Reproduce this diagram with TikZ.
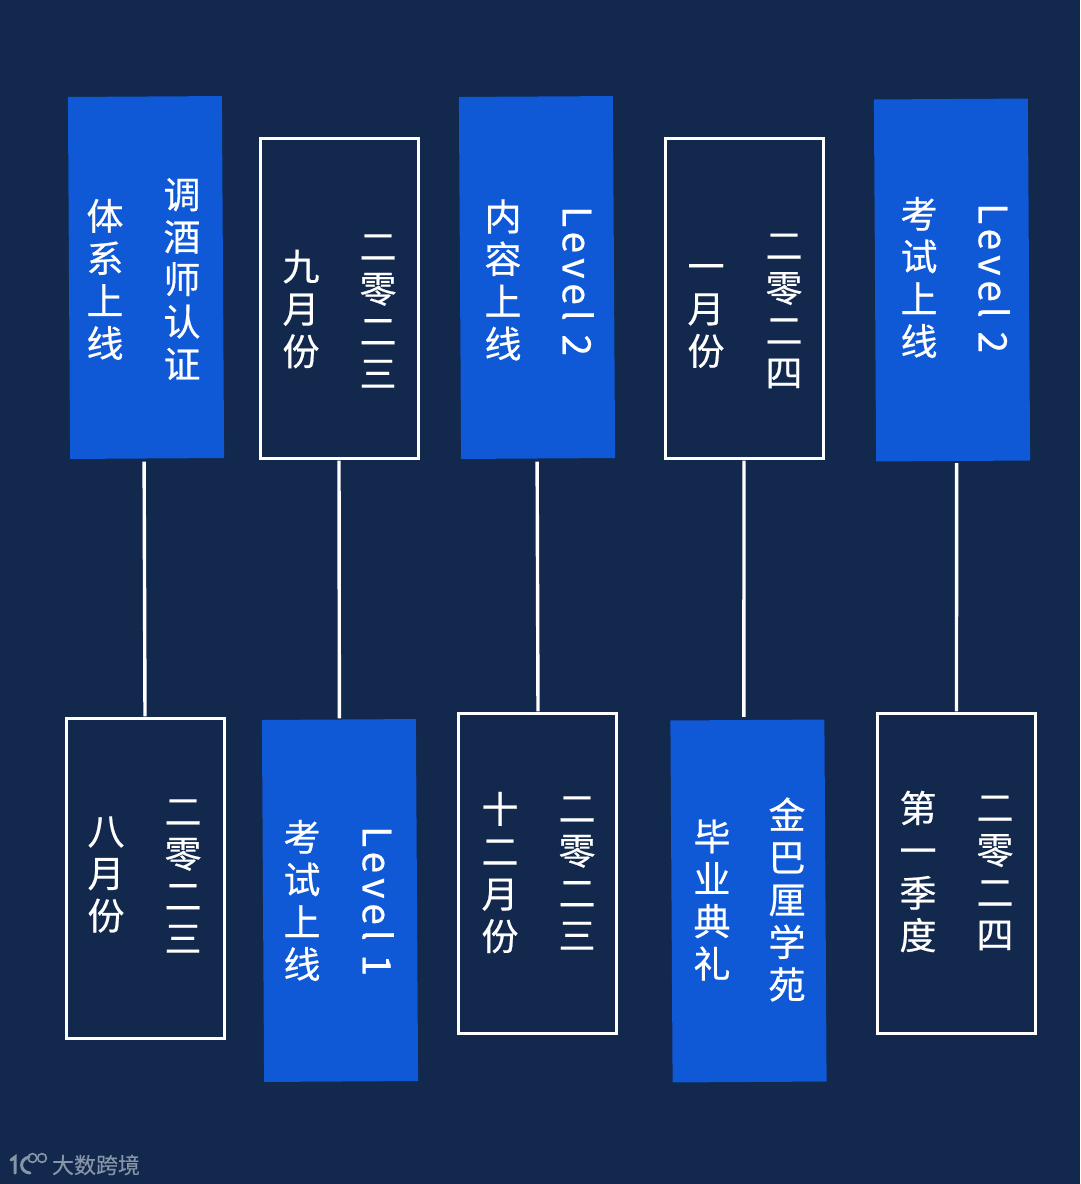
\documentclass[tikz,border=0pt]{standalone}
\usepackage{fontspec}
\newfontfamily\cjkfont[FakeBold=0.5]{Noto Sans CJK SC}
\newfontfamily\markfont[FakeBold=0.3]{Noto Sans CJK SC}
\newfontfamily\latinfont[LetterSpace=12.5,FakeBold=0.5]{Noto Sans CJK SC}
\definecolor{bgnavy}{HTML}{12284C}
\definecolor{boxblue}{HTML}{0F58D6}
\definecolor{markgrey}{HTML}{8795A8}
\tikzset{
  x=1pt,y=-1pt,
  bluebox/.style={draw=none,fill=boxblue,minimum width=154pt,minimum height=362pt,inner sep=0pt,rotate=0.35},
  linebox/.style={draw=white,line width=2.8pt,fill=none,minimum width=157.5pt,minimum height=319.5pt,inner sep=0pt},
  stacktext/.style={text=white,inner sep=0pt,align=center,font=\cjkfont\fontsize{37}{42.4}\selectfont},
  leveltext/.style={text=white,inner sep=0pt,rotate=-90,font=\latinfont\fontsize{39}{42}\selectfont},
  linkline/.style={draw=white,line width=3.4pt},
  logoline/.style={draw=markgrey,line width=3pt}
}
\begin{document}
\begin{tikzpicture}
\useasboundingbox (0,0) rectangle (1080,1184);
\fill[bgnavy] (0,0) rectangle (1080,1184);
% top row
\node[bluebox] (a) at (146,277.5) {};
\node[linebox] (b) at (339.5,298.5) {};
\node[bluebox] (c) at (537,277.5) {};
\node[linebox] (d) at (744.5,298.5) {};
\node[bluebox] (e) at (952,280) {};
% bottom row
\node[linebox] (f) at (145.5,878.5) {};
\node[bluebox] (g) at (340,900.5) {};
\node[linebox] (h) at (537.5,873.5) {};
\node[bluebox] (i) at (748.5,901) {};
\node[linebox] (j) at (956.5,873.5) {};
% connectors
\draw[linkline] ([xshift=-3pt,yshift=-3pt]a.south) -- ([xshift=-0.5pt,yshift=1pt]f.north);
\draw[linkline] ([xshift=-0.5pt,yshift=-1pt]b.south) -- ([xshift=0.5pt,yshift=1pt]g.north);
\draw[linkline] ([xshift=-1pt,yshift=-3pt]c.south) -- ([xshift=0.5pt,yshift=1pt]h.north);
\draw[linkline] ([xshift=-0.5pt,yshift=-1pt]d.south) -- ([xshift=-3.5pt,yshift=3pt]i.north);
\draw[linkline] ([xshift=3.5pt,yshift=-2pt]e.south) -- ([yshift=1pt]j.north);
% texts
\node[stacktext] (a1) at (182,279) {调\\酒\\师\\认\\证};
\node[stacktext] (a2) at (105,279.5) {体\\系\\上\\线};
\node[stacktext] (b1) at (378,311) {二\\零\\二\\三};
\node[stacktext] (b2) at (301,309) {九\\月\\份};
\node[leveltext] (c1) at (578,281) {Level 2};
\node[stacktext] (c2) at (503,280) {内\\容\\上\\线};
\node[stacktext] (d1) at (784,311) {二\\零\\二\\四};
\node[stacktext] (d2) at (706,316) {一\\月\\份};
\node[leveltext] (e1) at (994,278) {Level 2};
\node[stacktext] (e2) at (919,277.5) {考\\试\\上\\线};
\node[stacktext] (f1) at (183,876) {二\\零\\二\\三};
\node[stacktext] (f2) at (106,874.5) {八\\月\\份};
\node[leveltext] (g1) at (378,901) {Level 1};
\node[stacktext] (g2) at (302,900.5) {考\\试\\上\\线};
\node[stacktext] (h1) at (577,873) {二\\零\\二\\三};
\node[stacktext] (h2) at (500,872.5) {十\\二\\月\\份};
\node[stacktext] (i1) at (787,899.5) {金\\巴\\厘\\学\\苑};
\node[stacktext] (i2) at (712,900) {毕\\业\\典\\礼};
\node[stacktext] (j1) at (995,873) {二\\零\\二\\四};
\node[stacktext] (j2) at (918,871.5) {第\\一\\季\\度};
% watermark
\path[logoline,line cap=round] (11,1160) -- (15,1157) -- (15,1173);
\path[logoline,line cap=round] (29,1157) .. controls (19,1159) and (19,1172) .. (30,1173);
\draw[logoline,line width=1.6pt] (32.5,1158) circle (4.4);
\draw[logoline,line width=1.6pt] (42,1158) circle (4.4);
\node[text=markgrey,inner sep=0pt,font=\markfont\fontsize{22}{24}\selectfont] (wm) at (96,1165) {大数跨境};
\end{tikzpicture}
\end{document}
